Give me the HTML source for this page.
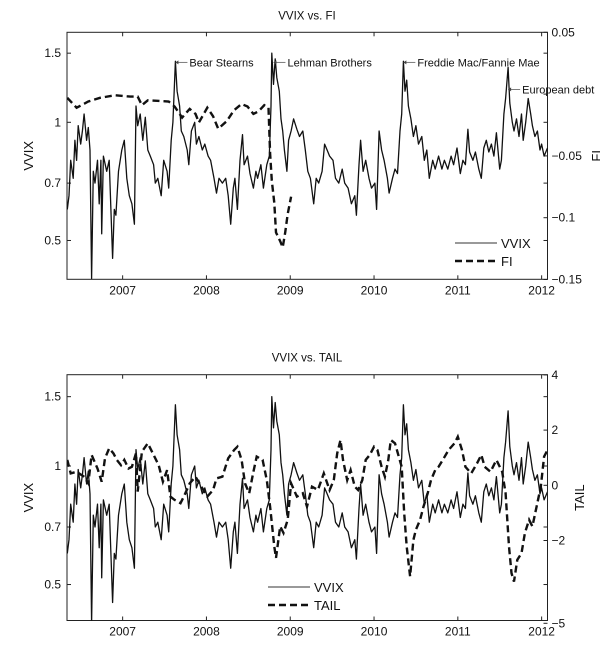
<!DOCTYPE html>
<html><head><meta charset="utf-8"><style>
body{margin:0;background:#fff;width:600px;height:660px;overflow:hidden}
svg{font-family:"Liberation Sans",Arial,sans-serif}
text{fill:#111}
</style></head><body>
<svg id="chart" width="600" height="660" viewBox="0 0 600 660" xmlns="http://www.w3.org/2000/svg">
<defs>
<clipPath id="c1"><rect x="67" y="32.3" width="481" height="247"/></clipPath>
<clipPath id="c2"><rect x="67" y="374.7" width="480" height="246"/></clipPath>
</defs>
<g id="g1"></g>
<g id="g2"></g>
</svg>
<script>
const vvixDates=[2006.34,2006.36,2006.38,2006.41,2006.43,2006.45,2006.47,2006.50,2006.52,2006.54,2006.57,2006.59,2006.61,2006.63,2006.65,2006.67,2006.70,2006.72,2006.74,2006.75,2006.77,2006.81,2006.84,2006.86,2006.88,2006.90,2006.92,2006.95,2006.99,2007.02,2007.05,2007.08,2007.11,2007.14,2007.16,2007.18,2007.21,2007.24,2007.27,2007.30,2007.33,2007.37,2007.39,2007.42,2007.46,2007.49,2007.53,2007.55,2007.58,2007.60,2007.63,2007.65,2007.68,2007.70,2007.73,2007.77,2007.79,2007.82,2007.86,2007.88,2007.91,2007.95,2007.98,2008.02,2008.05,2008.09,2008.12,2008.15,2008.19,2008.23,2008.26,2008.29,2008.32,2008.34,2008.37,2008.40,2008.43,2008.45,2008.49,2008.52,2008.56,2008.59,2008.61,2008.65,2008.68,2008.72,2008.75,2008.77,2008.78,2008.80,2008.82,2008.84,2008.87,2008.89,2008.91,2008.93,2008.96,2008.98,2009.01,2009.04,2009.08,2009.11,2009.15,2009.18,2009.21,2009.24,2009.28,2009.31,2009.34,2009.38,2009.41,2009.44,2009.47,2009.51,2009.54,2009.58,2009.62,2009.65,2009.69,2009.73,2009.77,2009.79,2009.82,2009.84,2009.87,2009.90,2009.94,2009.97,2010.01,2010.03,2010.06,2010.09,2010.12,2010.16,2010.18,2010.22,2010.25,2010.28,2010.31,2010.33,2010.35,2010.37,2010.39,2010.41,2010.44,2010.47,2010.50,2010.53,2010.57,2010.60,2010.63,2010.66,2010.70,2010.73,2010.77,2010.81,2010.84,2010.88,2010.92,2010.95,2010.99,2011.03,2011.06,2011.09,2011.12,2011.14,2011.18,2011.21,2011.25,2011.28,2011.31,2011.34,2011.37,2011.40,2011.43,2011.46,2011.50,2011.52,2011.55,2011.57,2011.60,2011.62,2011.65,2011.67,2011.70,2011.73,2011.76,2011.78,2011.81,2011.84,2011.87,2011.89,2011.92,2011.95,2011.98,2012.00,2012.03,2012.07];
const vvixValues=[0.60,0.65,0.80,0.72,0.90,0.80,0.98,0.88,0.95,1.05,0.90,0.97,0.85,0.40,0.75,0.70,0.80,0.62,0.80,0.52,0.82,0.75,0.80,0.60,0.45,0.60,0.58,0.75,0.85,0.90,0.72,0.65,0.62,0.55,1.10,0.98,1.05,0.90,1.03,0.85,0.82,0.78,0.70,0.72,0.65,0.80,0.75,0.68,0.90,1.00,1.43,1.20,1.10,0.95,0.92,0.85,0.78,0.95,1.00,0.88,0.92,0.85,0.88,0.82,0.80,0.72,0.66,0.72,0.70,0.72,0.65,0.55,0.68,0.72,0.60,0.80,0.93,0.78,0.82,0.74,0.68,0.75,0.72,0.78,0.68,0.78,0.82,1.10,1.50,1.25,1.45,1.30,1.20,1.02,0.95,0.85,0.75,0.90,0.95,1.02,0.96,0.92,0.95,0.85,0.75,0.72,0.62,0.72,0.70,0.75,0.88,0.85,0.82,0.80,0.72,0.70,0.76,0.70,0.68,0.62,0.65,0.58,0.78,0.90,0.75,0.80,0.72,0.68,0.70,0.60,0.95,0.85,0.80,0.72,0.66,0.72,0.76,0.74,0.95,1.05,1.43,1.20,1.28,1.10,1.02,0.92,0.98,0.88,0.92,0.80,0.85,0.72,0.80,0.76,0.82,0.76,0.80,0.76,0.82,0.78,0.86,0.74,0.80,0.78,0.96,0.84,0.80,0.84,0.76,0.72,0.86,0.90,0.84,0.88,0.82,0.94,0.76,0.80,1.05,1.15,1.38,1.12,1.00,0.95,1.02,0.92,1.05,0.90,1.00,1.15,1.05,0.98,0.92,0.95,0.85,0.88,0.82,0.86];
const fiDates=[2006.34,2006.45,2006.59,2006.73,2006.91,2007.09,2007.18,2007.23,2007.30,2007.55,2007.62,2007.71,2007.80,2007.87,2007.91,2008.01,2008.08,2008.14,2008.24,2008.33,2008.42,2008.49,2008.56,2008.62,2008.69,2008.74,2008.76,2008.78,2008.81,2008.83,2008.88,2008.91,2008.94,2008.97,2009.01];
const fiValues=[-0.003,-0.011,-0.006,-0.003,-0.001,-0.002,-0.002,-0.009,-0.005,-0.006,-0.010,-0.019,-0.012,-0.016,-0.023,-0.011,-0.018,-0.028,-0.022,-0.013,-0.008,-0.010,-0.016,-0.014,-0.009,-0.011,-0.048,-0.070,-0.088,-0.112,-0.119,-0.124,-0.112,-0.097,-0.083];
const tailDates=[2006.34,2006.38,2006.45,2006.54,2006.59,2006.63,2006.70,2006.75,2006.79,2006.84,2006.89,2006.93,2006.98,2007.02,2007.07,2007.11,2007.16,2007.18,2007.23,2007.30,2007.37,2007.43,2007.48,2007.53,2007.57,2007.62,2007.69,2007.73,2007.80,2007.87,2007.94,2008.01,2008.08,2008.12,2008.19,2008.26,2008.33,2008.37,2008.42,2008.46,2008.51,2008.56,2008.60,2008.67,2008.72,2008.76,2008.81,2008.83,2008.88,2008.92,2008.97,2009.01,2009.08,2009.15,2009.20,2009.26,2009.33,2009.40,2009.47,2009.52,2009.56,2009.60,2009.63,2009.68,2009.72,2009.77,2009.81,2009.86,2009.90,2009.95,2010.00,2010.04,2010.09,2010.13,2010.17,2010.20,2010.25,2010.29,2010.33,2010.36,2010.39,2010.43,2010.47,2010.50,2010.55,2010.59,2010.64,2010.68,2010.73,2010.77,2010.82,2010.89,2010.96,2011.00,2011.05,2011.09,2011.16,2011.23,2011.28,2011.32,2011.39,2011.46,2011.53,2011.57,2011.61,2011.64,2011.67,2011.71,2011.76,2011.80,2011.85,2011.89,2011.94,2011.99,2012.03,2012.07];
const tailValues=[0.92,0.43,0.49,0.31,0.07,1.10,0.61,0.13,0.98,1.34,1.16,0.92,0.73,0.92,0.61,0.67,1.16,-0.23,1.22,1.52,1.10,0.73,0.13,0.55,-0.41,-0.53,-0.65,-0.41,0.07,0.31,-0.05,-0.41,-0.17,0.25,0.31,0.98,1.28,1.40,0.92,0.07,-0.29,0.49,1.04,0.92,0.19,-0.77,-2.22,-2.63,-1.49,-1.73,-1.25,0.07,-0.41,-0.29,-0.77,-0.05,-0.17,0.43,-0.17,0.19,1.16,1.64,0.92,0.19,0.55,-0.05,-0.17,0.19,0.92,1.10,1.40,1.28,0.67,0.31,0.92,1.64,1.52,1.10,0.67,-1.01,-2.22,-3.30,-1.98,-1.61,-1.25,-0.77,-0.29,0.19,0.55,0.67,0.92,1.28,1.52,1.76,1.28,0.67,0.43,0.80,1.10,0.67,0.49,0.92,0.49,-0.29,-2.22,-3.18,-3.49,-2.70,-2.46,-1.73,-1.25,-1.49,-0.77,-0.05,1.04,1.28];
const yearTicks=[2007,2008,2009,2010,2011,2012];
const vvixTicks=[0.5,0.7,1,1.5];
const vvixTickLabels=["0.5","0.7","1","1.5"];
const fiTicks=[0.05,0,-0.05,-0.1,-0.15];
const fiTickLabels=["0.05","","\u22120.05","\u22120.1","\u22120.15"];
const tailTicks=[4,2,0,-2,-5];
const tailTickLabels=["4","2","0","\u22122","\u22125"];

const NS="http://www.w3.org/2000/svg";
const X0=67,X1=547.5,T0=2006.336,T1=2012.07;
const xS=t=>X0+(t-T0)/(T1-T0)*(X1-X0);
const P1={top:32.3,bot:279.3}, P2={top:374.7,bot:620.5};
const yV1=v=>122.3-Math.log(v)*170.5;
const yV2=v=>466-Math.log(v)*171;
const yF=v=>32.3+(0.05-v)*1236;
const yT=v=>485.3-v*27.6;
function mk(tag,attrs,parent){const e=document.createElementNS(NS,tag);for(const k in attrs)e.setAttribute(k,attrs[k]);parent.appendChild(e);return e;}
function txt(parent,x,y,s,anchor,size){const t=mk('text',{x:x,y:y,'text-anchor':anchor,'font-size':size},parent);t.textContent=s;return t;}
function path(xs,ys,fx,fy){return xs.map((d,i)=>(i?'L':'M')+fx(d).toFixed(1)+','+fy(ys[i]).toFixed(1)).join('');}

function panel(g,P,yV,yR,rTicks,rLabels,title,rTitle,series2,dates2,yS2,clip,leg){
  const title_=txt(g,307,P.top-13,title,'middle',11.5);
  
  
  const box=mk('rect',{x:X0,y:P.top,width:X1-X0,height:P.bot-P.top,fill:'none',stroke:'#222','stroke-width':1},g);
  
  
  yearTicks.forEach(t=>{const x=xS(t);
    mk('line',{x1:x,x2:x,y1:P.bot,y2:P.bot-4,stroke:'#222'},g);
    mk('line',{x1:x,x2:x,y1:P.top,y2:P.top+4,stroke:'#222'},g);
    const l=txt(g,x,P.bot+15,String(t),'middle',12);
    
    });
  vvixTicks.forEach((v,i)=>{const y=yV(v);
    mk('line',{x1:X0,x2:X0+4,y1:y,y2:y,stroke:'#222'},g);
    mk('line',{x1:X1,x2:X1-4,y1:y,y2:y,stroke:'#222'},g);
    const l=txt(g,X0-6,y+4,vvixTickLabels[i],'end',12);
    
    });
  rTicks.forEach((v,i)=>{const y=yR(v);
    mk('line',{x1:X1,x2:X1-4,y1:y,y2:y,stroke:'#222'},g);
    const l=txt(g,X1+4,y+4,rLabels[i],'start',12);
    
    });
  const yl=txt(g,0,0,'VVIX','middle',13);
  yl.setAttribute('transform',`translate(33,${(P.top+P.bot)/2}) rotate(-90)`);
  
  
  const rl=txt(g,0,0,rTitle,'middle',13);
  rl.setAttribute('transform',`translate(${rTitle==='FI'?601:584},${(P.top+P.bot)/2}) rotate(-90)`);
  
  
  const cg=mk('g',{'clip-path':`url(#${clip})`},g);
  const pv=mk('path',{d:path(vvixDates,vvixValues,xS,yV),fill:'none',stroke:'#111','stroke-width':1.3,'stroke-linejoin':'round'},cg);
  
  
  const p2=mk('path',{d:path(dates2,series2,xS,yS2),fill:'none',stroke:'#111','stroke-width':2.4,'stroke-dasharray':'7,4'},cg);
  
  
  const lg=mk('g',{},g);
  
  
  mk('line',{x1:leg.x,x2:leg.x+42,y1:leg.y,y2:leg.y,stroke:'#333','stroke-width':1},lg);
  txt(lg,leg.x+46,leg.y+5,'VVIX','start',13);
  mk('line',{x1:leg.x,x2:leg.x+42,y1:leg.y+18,y2:leg.y+18,stroke:'#111','stroke-width':2.4,'stroke-dasharray':'7,4'},lg);
  txt(lg,leg.x+46,leg.y+23,rTitle,'start',13);
}
const g1=document.getElementById('g1'),g2=document.getElementById('g2');
panel(g1,P1,yV1,yF,fiTicks,fiTickLabels,'VVIX vs. FI','FI',fiValues,fiDates,yF,'c1',{x:455,y:243});
panel(g2,P2,yV2,yT,tailTicks,tailTickLabels,'VVIX vs. TAIL','TAIL',tailValues,tailDates,yT,'c2',{x:268,y:587});
const notes=[[2007.63,1.43,'Bear Stearns'],[2008.80,1.43,'Lehman Brothers'],[2010.35,1.43,'Freddie Mac/Fannie Mae'],[2011.60,1.22,'European debt']];
notes.forEach(n=>{const x=xS(n[0]),y=yV1(n[1])+1;
  const a=mk('g',{},g1);
  
  
  mk('line',{x1:x,x2:x+12,y1:y,y2:y,stroke:'#444','stroke-width':0.7},a);
  mk('path',{d:`M${x},${y}l3,-2v4z`,fill:'#444'},a);
  txt(a,x+14,y+4,n[2],'start',11);
});
</script>
</body></html>
